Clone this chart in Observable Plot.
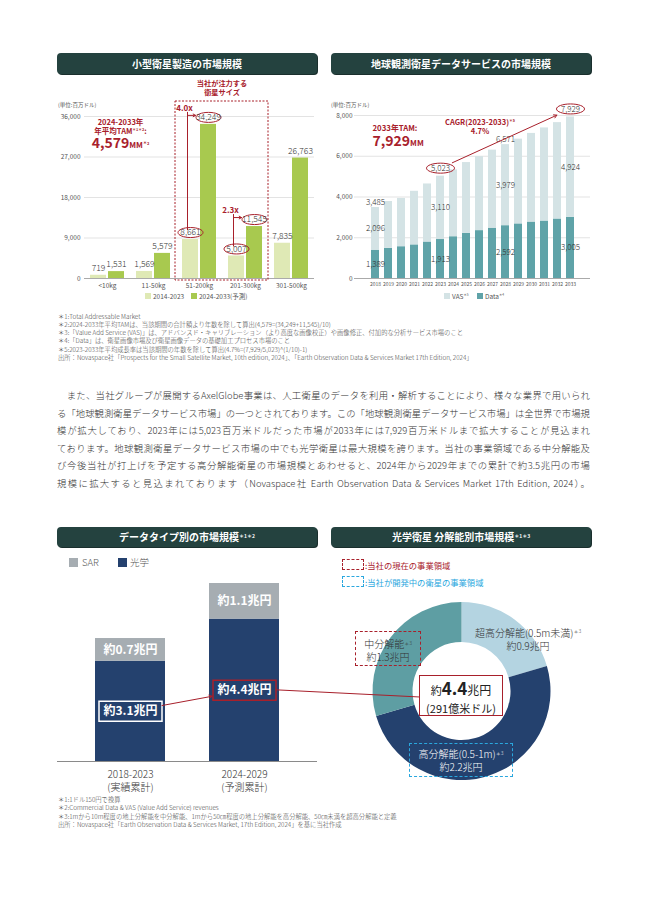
<!DOCTYPE html>
<html><head><meta charset="utf-8">
<script src="https://cdn.jsdelivr.net/npm/d3@7"></script>
<script src="https://cdn.jsdelivr.net/npm/@observablehq/plot@0.6"></script>
<style>
body{margin:0;background:#fff;font-family:"Noto Sans CJK JP","Noto Sans",sans-serif;}
#page{position:relative;width:648px;height:915px;overflow:hidden;background:#fff;}
sup{font-size:0.5em;vertical-align:0.7em;line-height:0;}
.note{position:absolute;left:58px;font-size:6.3px;color:#444;white-space:nowrap;line-height:1;transform:translateY(-50%);font-weight:300;}
.para{position:absolute;left:57px;width:533px;font-size:9.4px;color:#333;white-space:nowrap;line-height:1;text-align:justify;text-align-last:justify;transform:translateY(-50%);font-weight:300;}
</style></head>
<body><div id="page"></div>
<script>
// ---------- DATA ----------
const sizeCats = ["<10kg","11-50kg","51-200kg","201-300kg","301-500kg"];
const periods = ["2014-2023","2024-2033(予測)"];
const sizeHist = [719,1569,8661,5007,7835];
const sizeProj = [1531,5579,34249,11545,26763];
const sizeTicks = [0,9000,18000,27000,36000];
const focusCats = ["51-200kg","201-300kg"];

const eoYears = [2018,2019,2020,2021,2022,2023,2024,2025,2026,2027,2028,2029,2030,2031,2032,2033];
const eoData = [1389,1480,1560,1650,1790,1913,2050,2220,2350,2470,2592,2680,2770,2820,2920,3005];
const eoVAS  = [2096,2300,2370,2630,2850,3110,3280,3470,3630,3830,3979,4160,4350,4570,4730,4924];
const eoTicks = [0,2000,4000,6000,8000];
const eoLabeled = [2018,2023,2028,2033];
const eoCircled = [2023,2033];

const typeCats = ["2018-2023","2024-2029"];
const typeSub = ["(実績累計)","(予測累計)"];
const typeOptical = [3.1,4.4];
const typeSAR = [0.7,1.1];

const resNames = ["超高分解能(0.5m未満)","高分解能(0.5-1m)","中分解能"];
const resValues = [0.9,2.2,1.3];

// ---------- HELPERS ----------
const FONT = '"Noto Sans CJK JP","Noto Sans",sans-serif';
const RED = "#a8202b";
const CYAN = "#2aa7de";
const fmt = d3.format(",");
const page = document.getElementById("page");
function lab(cx, cy, s, st = {}) {
  const d = document.createElement("div"); d.innerHTML = s;
  Object.assign(d.style, {position:"absolute", left:cx+"px", top:cy+"px", transform:"translate(-50%,-50%)", whiteSpace:"nowrap", lineHeight:"1", textAlign:"center"}, st);
  page.appendChild(d); return d;
}
function labL(x, cy, s, st = {}) { return lab(x, cy, s, Object.assign({transform:"translate(0,-50%)", textAlign:"left"}, st)); }
function rectDiv(x, y, w, h, st) {
  const d = document.createElement("div");
  Object.assign(d.style, {position:"absolute", left:x+"px", top:y+"px", width:w+"px", height:h+"px", boxSizing:"border-box"}, st);
  page.appendChild(d); return d;
}
function titleBar(x, y, w, h, s) {
  const d = rectDiv(x, y, w, h, {background:"#24423f", borderRadius:"4px", color:"#fff", fontWeight:"bold", fontSize:"10px", lineHeight:h+"px", textAlign:"center", boxShadow:"1px 1px 0 #1a2f2d"});
  d.innerHTML = s;
}
function put(svg, x, y) { svg.style.position = "absolute"; svg.style.left = x+"px"; svg.style.top = y+"px"; page.appendChild(svg); return svg; }
const ellipse = (rx, ry) => ({draw(c){const k=0.5523;c.moveTo(rx,0);c.bezierCurveTo(rx,ry*k,rx*k,ry,0,ry);c.bezierCurveTo(-rx*k,ry,-rx,ry*k,-rx,0);c.bezierCurveTo(-rx,-ry*k,-rx*k,-ry,0,-ry);c.bezierCurveTo(rx*k,-ry,rx,-ry*k,rx,0);c.closePath();}});
const boxSym = (w, h) => ({draw(c){c.rect(-w/2,-h/2,w,h);}});

// ---------- TITLES ----------
titleBar(57, 53, 260, 21, "小型衛星製造の市場規模");
titleBar(331, 53, 260, 21, "地球観測衛星データサービスの市場規模");
titleBar(57, 527, 260, 20, "データタイプ別の市場規模<sup>＊1＊2</sup>");
titleBar(331, 527, 260, 20, "光学衛星&nbsp;分解能別市場規模<sup>＊1＊3</sup>");

// ---------- CHART 1 ----------
const rows1 = sizeCats.flatMap((c,i)=>[{cat:c,period:periods[0],v:sizeHist[i]},{cat:c,period:periods[1],v:sizeProj[i]}]);
const growth = focusCats.map(c=>{const i=sizeCats.indexOf(c);return {cat:c,p0:periods[0],p1:periods[1],from:sizeHist[i],to:sizeProj[i],label:(sizeProj[i]/sizeHist[i]).toFixed(1)+"x"};});
const p1 = Plot.plot({
  width:265, height:225, marginTop:38, marginBottom:25, marginLeft:27, marginRight:5,
  style:{fontFamily:FONT, fontSize:"6.5px", color:"#555", background:"transparent", overflow:"visible"},
  fx:{domain:sizeCats, padding:0},
  x:{domain:periods, axis:null, paddingInner:0.105, paddingOuter:0.279},
  y:{domain:[0,36000]},
  color:{domain:periods, range:["#dfe9b5","#a8c94f"]},
  marks:[
    Plot.ruleY(sizeTicks.slice(1), {stroke:"#e3e3e3"}),
    Plot.barY(rows1, {fx:"cat", x:"period", y:"v", fill:"period"}),
    Plot.ruleY([0], {stroke:"#aaa"}),
    Plot.axisFx({anchor:"bottom", tickSize:0, tickPadding:5, fontSize:6.5, label:null}),
    Plot.axisY(sizeTicks, {tickSize:0, tickPadding:4, fontSize:6.5, tickFormat:fmt, label:null}),
    Plot.dot(rows1.filter(d=>focusCats.includes(d.cat)), {fx:"cat", x:"period", y:"v", dy:-7, symbol:ellipse(12.5,5), stroke:RED, strokeWidth:1, fill:"none"}),
    Plot.text(rows1, {fx:"cat", x:"period", y:"v", dy:-7, text:d=>fmt(d.v), fontSize:8.5, fill:"#333", fontWeight:300}),
    Plot.ruleX(growth, {fx:"cat", x:"p0", y1:"from", y2:"to", dx:-3, dy:-9, insetBottom:3, stroke:RED, strokeWidth:1}),
    Plot.arrow(growth, {fx:"cat", x1:"p0", x2:"p1", y1:"to", y2:"to", dx:-3, dy:-9, insetEnd:10, stroke:RED, strokeWidth:1, headLength:4}),
    Plot.text(growth, {fx:"cat", x:"p0", y:"to", dx:-6, dy:-16, text:"label", fill:RED, fontWeight:"bold", fontSize:8})
  ]
});
put(p1, 55, 78);
{
  const fx = p1.scale("fx"), y = p1.scale("y");
  const a = fx.apply(focusCats[0]), b = fx.apply(focusCats[focusCats.length-1]) + fx.bandwidth;
  const top = y.apply(sizeTicks[sizeTicks.length-1]) - 15, bot = y.apply(0) + 2;
  const s = d3.select(p1);
  s.append("rect").attr("x",a-1).attr("y",top).attr("width",b-a+1).attr("height",bot-top)
    .attr("fill","none").attr("stroke",RED).attr("stroke-width",1).attr("stroke-dasharray","2,1.5");
  const t = s.append("text").attr("x",(a+b)/2).attr("y",top-17.5).attr("text-anchor","middle").attr("dominant-baseline","middle")
      .attr("fill",RED).attr("font-weight","bold").attr("font-size",7.2);
  t.append("tspan").attr("x",(a+b)/2).text("当社が注力する");
  t.append("tspan").attr("x",(a+b)/2).attr("dy",9.5).text("衛星サイズ");
}
labL(58, 106, "(単位:百万ドル)", {fontSize:"5.5px", color:"#555"});
const tam = Math.round((sizeProj[sizeCats.indexOf("51-200kg")] + sizeProj[sizeCats.indexOf("201-300kg")]) / 10);
lab(120.5, 133.5,
  `<div style="line-height:9px">2024-2033年</div><div style="line-height:9px">年平均TAM<sup>＊1＊2</sup>:</div>` +
  `<div style="line-height:14px"><span style="font-size:14px">${fmt(tam)}</span><span style="font-size:8px">MM</span><sup style="font-size:4px">＊2</sup></div>`,
  {color:RED, fontWeight:"bold", fontSize:"7.5px"});
rectDiv(145, 293, 6, 6, {background:"#dfe9b5"});
labL(153, 296, periods[0], {fontSize:"6.5px", color:"#555"});
rectDiv(191, 293, 6, 6, {background:"#a8c94f"});
labL(199, 296, periods[1], {fontSize:"6.5px", color:"#555"});

// ---------- CHART 2 ----------
const rows2 = eoYears.flatMap((y,i)=>[{year:y,type:"Data",v:eoData[i]},{year:y,type:"VAS",v:eoVAS[i]}]);
const totals2 = eoYears.map((y,i)=>({year:y, v:eoData[i]+eoVAS[i]}));
const iA = eoYears.indexOf(2023), iB = eoYears.indexOf(2033);
const cagrRow = [{a:eoYears[iA], b:eoYears[iB], ya:totals2[iA].v, yb:totals2[iB].v}];
const p2 = Plot.plot({
  width:265, height:205, marginTop:20, marginBottom:22, marginLeft:24, marginRight:5,
  style:{fontFamily:FONT, fontSize:"6.5px", color:"#555", background:"transparent", overflow:"visible"},
  x:{domain:eoYears, type:"band", paddingInner:0.4, paddingOuter:0.63},
  y:{domain:[0,8000]},
  color:{domain:["VAS","Data"], range:["#d4e3e5","#5fa3a8"]},
  marks:[
    Plot.ruleY(eoTicks.slice(1), {stroke:"#e3e3e3"}),
    Plot.barY(rows2, {x:"year", y:"v", fill:"type"}),
    Plot.ruleY([0], {stroke:"#aaa"}),
    Plot.axisX({tickSize:0, tickPadding:4, fontSize:5, tickFormat:d=>String(d), label:null}),
    Plot.axisY(eoTicks, {tickSize:0, tickPadding:2, fontSize:6.5, tickFormat:fmt, label:null}),
    Plot.text(rows2.filter(d=>eoLabeled.includes(d.year)), Plot.stackY({x:"year", y:"v", z:"type", text:d=>fmt(d.v), fontSize:8, fill:"#333", fontWeight:300})),
    Plot.text(totals2.filter(d=>eoLabeled.includes(d.year) && !eoCircled.includes(d.year)), {x:"year", y:"v", dy:-5, text:d=>fmt(d.v), fontSize:8, fill:"#333", fontWeight:300}),
    Plot.dot(totals2.filter(d=>eoCircled.includes(d.year)), {x:"year", y:"v", dy:-8, symbol:ellipse(14,5), stroke:RED, strokeWidth:1, fill:"none"}),
    Plot.text(totals2.filter(d=>eoCircled.includes(d.year)), {x:"year", y:"v", dy:-8, text:d=>fmt(d.v), fontSize:8, fill:"#333", fontWeight:300}),
    Plot.arrow(cagrRow, {x1:"a", x2:"b", y1:"ya", y2:"yb", dy:-8, insetStart:13, insetEnd:15, stroke:RED, strokeWidth:1, headLength:5})
  ]
});
put(p2, 330, 95);
labL(331, 106, "(単位:百万ドル)", {fontSize:"5.5px", color:"#555"});
labL(372.5, 136,
  `<div style="line-height:9px;font-size:7.8px">2033年TAM:</div>` +
  `<div style="line-height:14px"><span style="font-size:14px">${fmt(totals2[iB].v)}</span><span style="font-size:8px">MM</span></div>`,
  {color:RED, fontWeight:"bold"});
const cagr = Math.pow(totals2[iB].v / totals2[iA].v, 1/(eoYears[iB]-eoYears[iA])) - 1;
lab(480, 125.5, `CAGR(${eoYears[iA]}-${eoYears[iB]})<sup>＊5</sup><br>${(cagr*100).toFixed(1)}%`, {color:RED, fontWeight:"bold", fontSize:"7.5px", lineHeight:"9.5px"});
rectDiv(444, 293, 6, 6, {background:"#d4e3e5"});
labL(452, 296, "VAS<sup>＊5</sup>", {fontSize:"6.5px", color:"#555"});
rectDiv(477, 293, 6, 6, {background:"#5fa3a8"});
labL(485, 296, "Data<sup>＊4</sup>", {fontSize:"6.5px", color:"#555"});

// ---------- NOTES (top) ----------
const notesTop = [
  "＊1:Total Addressable Market",
  "＊2:2024-2033年平均TAMは、当該期間の合計額より年数を除して算出(4,579=(34,249+11,545)/10)",
  "＊3:「Value Add Service (VAS)」は、アドバンスド・キャリブレーション（より高度な画像校正）や画像修正、付加的な分析サービス市場のこと",
  "＊4:「Data」は、衛星画像市場及び衛星画像データの基礎加工プロセス市場のこと",
  "＊5:2023-2033年平均成長率は当該期間の年数を除して算出(4.7%=(7,929/5,023)^(1/10)-1)",
  "出所：Novaspace社「Prospects for the Small Satellite Market, 10th edition, 2024」、「Earth Observation Data & Services Market 17th Edition, 2024」"
];
notesTop.forEach((t,i)=>{const d=document.createElement("div");d.className="note";d.textContent=t;d.style.top=(316.5+i*8.3)+"px";page.appendChild(d);});

// ---------- PARAGRAPH ----------
const para = [
  "　また、当社グループが展開するAxelGlobe事業は、人工衛星のデータを利用・解析することにより、様々な業界で用いられ",
  "る「地球観測衛星データサービス市場」の一つとされております。この「地球観測衛星データサービス市場」は全世界で市場規",
  "模が拡大しており、2023年には5,023百万米ドルだった市場が2033年には7,929百万米ドルまで拡大することが見込まれ",
  "ております。地球観測衛星データサービス市場の中でも光学衛星は最大規模を誇ります。当社の事業領域である中分解能及",
  "び今後当社が打上げを予定する高分解能衛星の市場規模とあわせると、2024年から2029年までの累計で約3.5兆円の市場",
  "規模に拡大すると見込まれております（Novaspace社 Earth Observation Data & Services Market 17th Edition, 2024）。"
];
para.forEach((t,i)=>{const d=document.createElement("div");d.className="para";d.textContent=t;d.style.top=(396+i*17.6)+"px";page.appendChild(d);});

// ---------- CHART 3 ----------
const rows3 = typeCats.flatMap((c,i)=>[{cat:c,type:"光学",v:typeOptical[i]},{cat:c,type:"SAR",v:typeSAR[i]}]);
const p3 = Plot.plot({
  width:265, height:245, marginTop:33, marginBottom:34, marginLeft:2, marginRight:3,
  style:{fontFamily:FONT, color:"#444", background:"transparent", overflow:"visible"},
  x:{domain:typeCats, paddingInner:0.383, paddingOuter:0.322, axis:null},
  y:{domain:[0,5.5], axis:null},
  color:{domain:["SAR","光学"], range:["#a6adb2","#24416e"]},
  marks:[
    Plot.barY(rows3, {x:"cat", y:"v", fill:"type"}),
    Plot.ruleY([0], {stroke:"#8a8a8a"}),
    Plot.dot(rows3.filter(d=>d.type==="光学" && d.cat===typeCats[0]), Plot.stackY({x:"cat", y:"v", symbol:boxSym(63,20), stroke:"#ffffff", strokeWidth:1.5, fill:"none"})),
    Plot.dot(rows3.filter(d=>d.type==="光学" && d.cat===typeCats[1]), Plot.stackY({x:"cat", y:"v", symbol:boxSym(63,20), stroke:RED, strokeWidth:1.5, fill:"none"})),
    Plot.text(rows3, Plot.stackY({x:"cat", y:"v", z:"type", text:d=>`約${d.v}兆円`, fill:"white", fontSize:12, fontWeight:"bold"})),
    Plot.arrow([{a:typeCats[0], b:typeCats[1], ya:typeOptical[0]/2, yb:typeOptical[1]/2}], {x1:"a", x2:"b", y1:"ya", y2:"yb", stroke:RED, strokeWidth:1, insetStart:32, insetEnd:33, headLength:5}),
    Plot.text(typeCats, {x:d=>d, y:0, dy:7, lineAnchor:"top", lineHeight:1.3, text:(d,i)=>d+"\n"+typeSub[i], fontSize:10, fill:"#333", fontWeight:300})
  ]
});
put(p3, 55, 550);
rectDiv(69, 558, 9, 9, {background:"#a6adb2"});
labL(82, 562.5, "SAR", {fontSize:"9.5px", color:"#555", fontWeight:300});
rectDiv(118, 558, 9, 9, {background:"#24416e"});
labL(130, 562.5, "光学", {fontSize:"9.5px", color:"#555", fontWeight:300});

// ---------- CHART 4 (donut) ----------
const resColors = ["#b4d4e1","#24416e","#5e9ea3"];
const p4 = Plot.plot({
  width:265, height:192, margin:0,
  style:{background:"transparent", overflow:"visible"},
  marks:[
    (index, scales, values, dim) => {
      const g = d3.create("svg:g").attr("transform", `translate(${dim.width/2},${dim.height/2})`);
      const arcs = d3.pie().sort(null)(resValues);
      const arc = d3.arc().innerRadius(49).outerRadius(89);
      g.selectAll("path").data(arcs).join("path").attr("d", arc).attr("fill", (d,i)=>resColors[i]);
      return g.node();
    }
  ]
});
put(p4, 329, 595);

// connector line from chart 3 to donut centre
{
  const x3 = p3.scale("x"), y3 = p3.scale("y");
  const sx = 55 + x3.apply(typeCats[1]) + x3.bandwidth/2 + 31.5;
  const sy = 550 + y3.apply(typeOptical[1]/2);
  const ov = d3.create("svg").attr("width",648).attr("height",915).style("position","absolute").style("left","0px").style("top","0px").style("pointer-events","none");
  ov.append("line").attr("x1",sx).attr("y1",sy).attr("x2",420).attr("y2",697).attr("stroke",RED).attr("stroke-width",1);
  page.appendChild(ov.node());
}

const fmtT = v => `約${v}兆円`;
rectDiv(342, 559, 22, 11, {border:"1px dashed "+RED});
labL(365, 564.5, ":当社の現在の事業領域", {color:RED, fontSize:"8.3px"});
rectDiv(342, 576, 22, 11, {border:"1px dashed "+CYAN});
labL(365, 581.5, ":当社が開発中の衛星の事業領域", {color:CYAN, fontSize:"8.3px"});

lab(528, 638.5, resNames[0]+"<sup>＊3</sup><br>"+fmtT(resValues[0]), {fontSize:"10px", color:"#333", fontWeight:300, lineHeight:"13.5px"});
rectDiv(355, 631, 66, 35, {border:"1px dashed "+RED});
lab(388, 649.5, resNames[2]+"<sup>＊3</sup><br>"+fmtT(resValues[2]), {fontSize:"10px", color:"#333", fontWeight:300, lineHeight:"13px"});
rectDiv(419, 675, 84, 41, {background:"#fff", border:"1.3px solid "+RED});
const resTotal = d3.sum(resValues).toFixed(1);
lab(461, 697,
  `<div style="line-height:20px"><span style="font-size:11px">約</span><span style="font-size:17px;font-weight:bold">${resTotal}</span><span style="font-size:12px">兆円</span></div>` +
  `<div style="line-height:16px;font-size:11px">(291億米ドル)</div>`, {color:"#222"});
rectDiv(409, 743, 104, 34, {border:"1px dashed "+CYAN});
lab(461, 760, resNames[1]+"<sup>＊3</sup><br>"+fmtT(resValues[1]), {fontSize:"10px", color:"#fff", fontWeight:300, lineHeight:"13px"});

// ---------- NOTES (bottom) ----------
const notesBottom = [
  "＊1:1ドル150円で換算",
  "＊2:Commercial Data & VAS (Value Add Service) revenues",
  "＊3:1mから10m程度の地上分解能を中分解能、1mから50㎝程度の地上分解能を高分解能、50㎝未満を超高分解能と定義",
  "出所：Novaspace社「Earth Observation Data & Services Market, 17th Edition, 2024」を基に当社作成"
];
notesBottom.forEach((t,i)=>{const d=document.createElement("div");d.className="note";d.textContent=t;d.style.top=(800+i*8.3)+"px";page.appendChild(d);});
</script>
</body></html>
